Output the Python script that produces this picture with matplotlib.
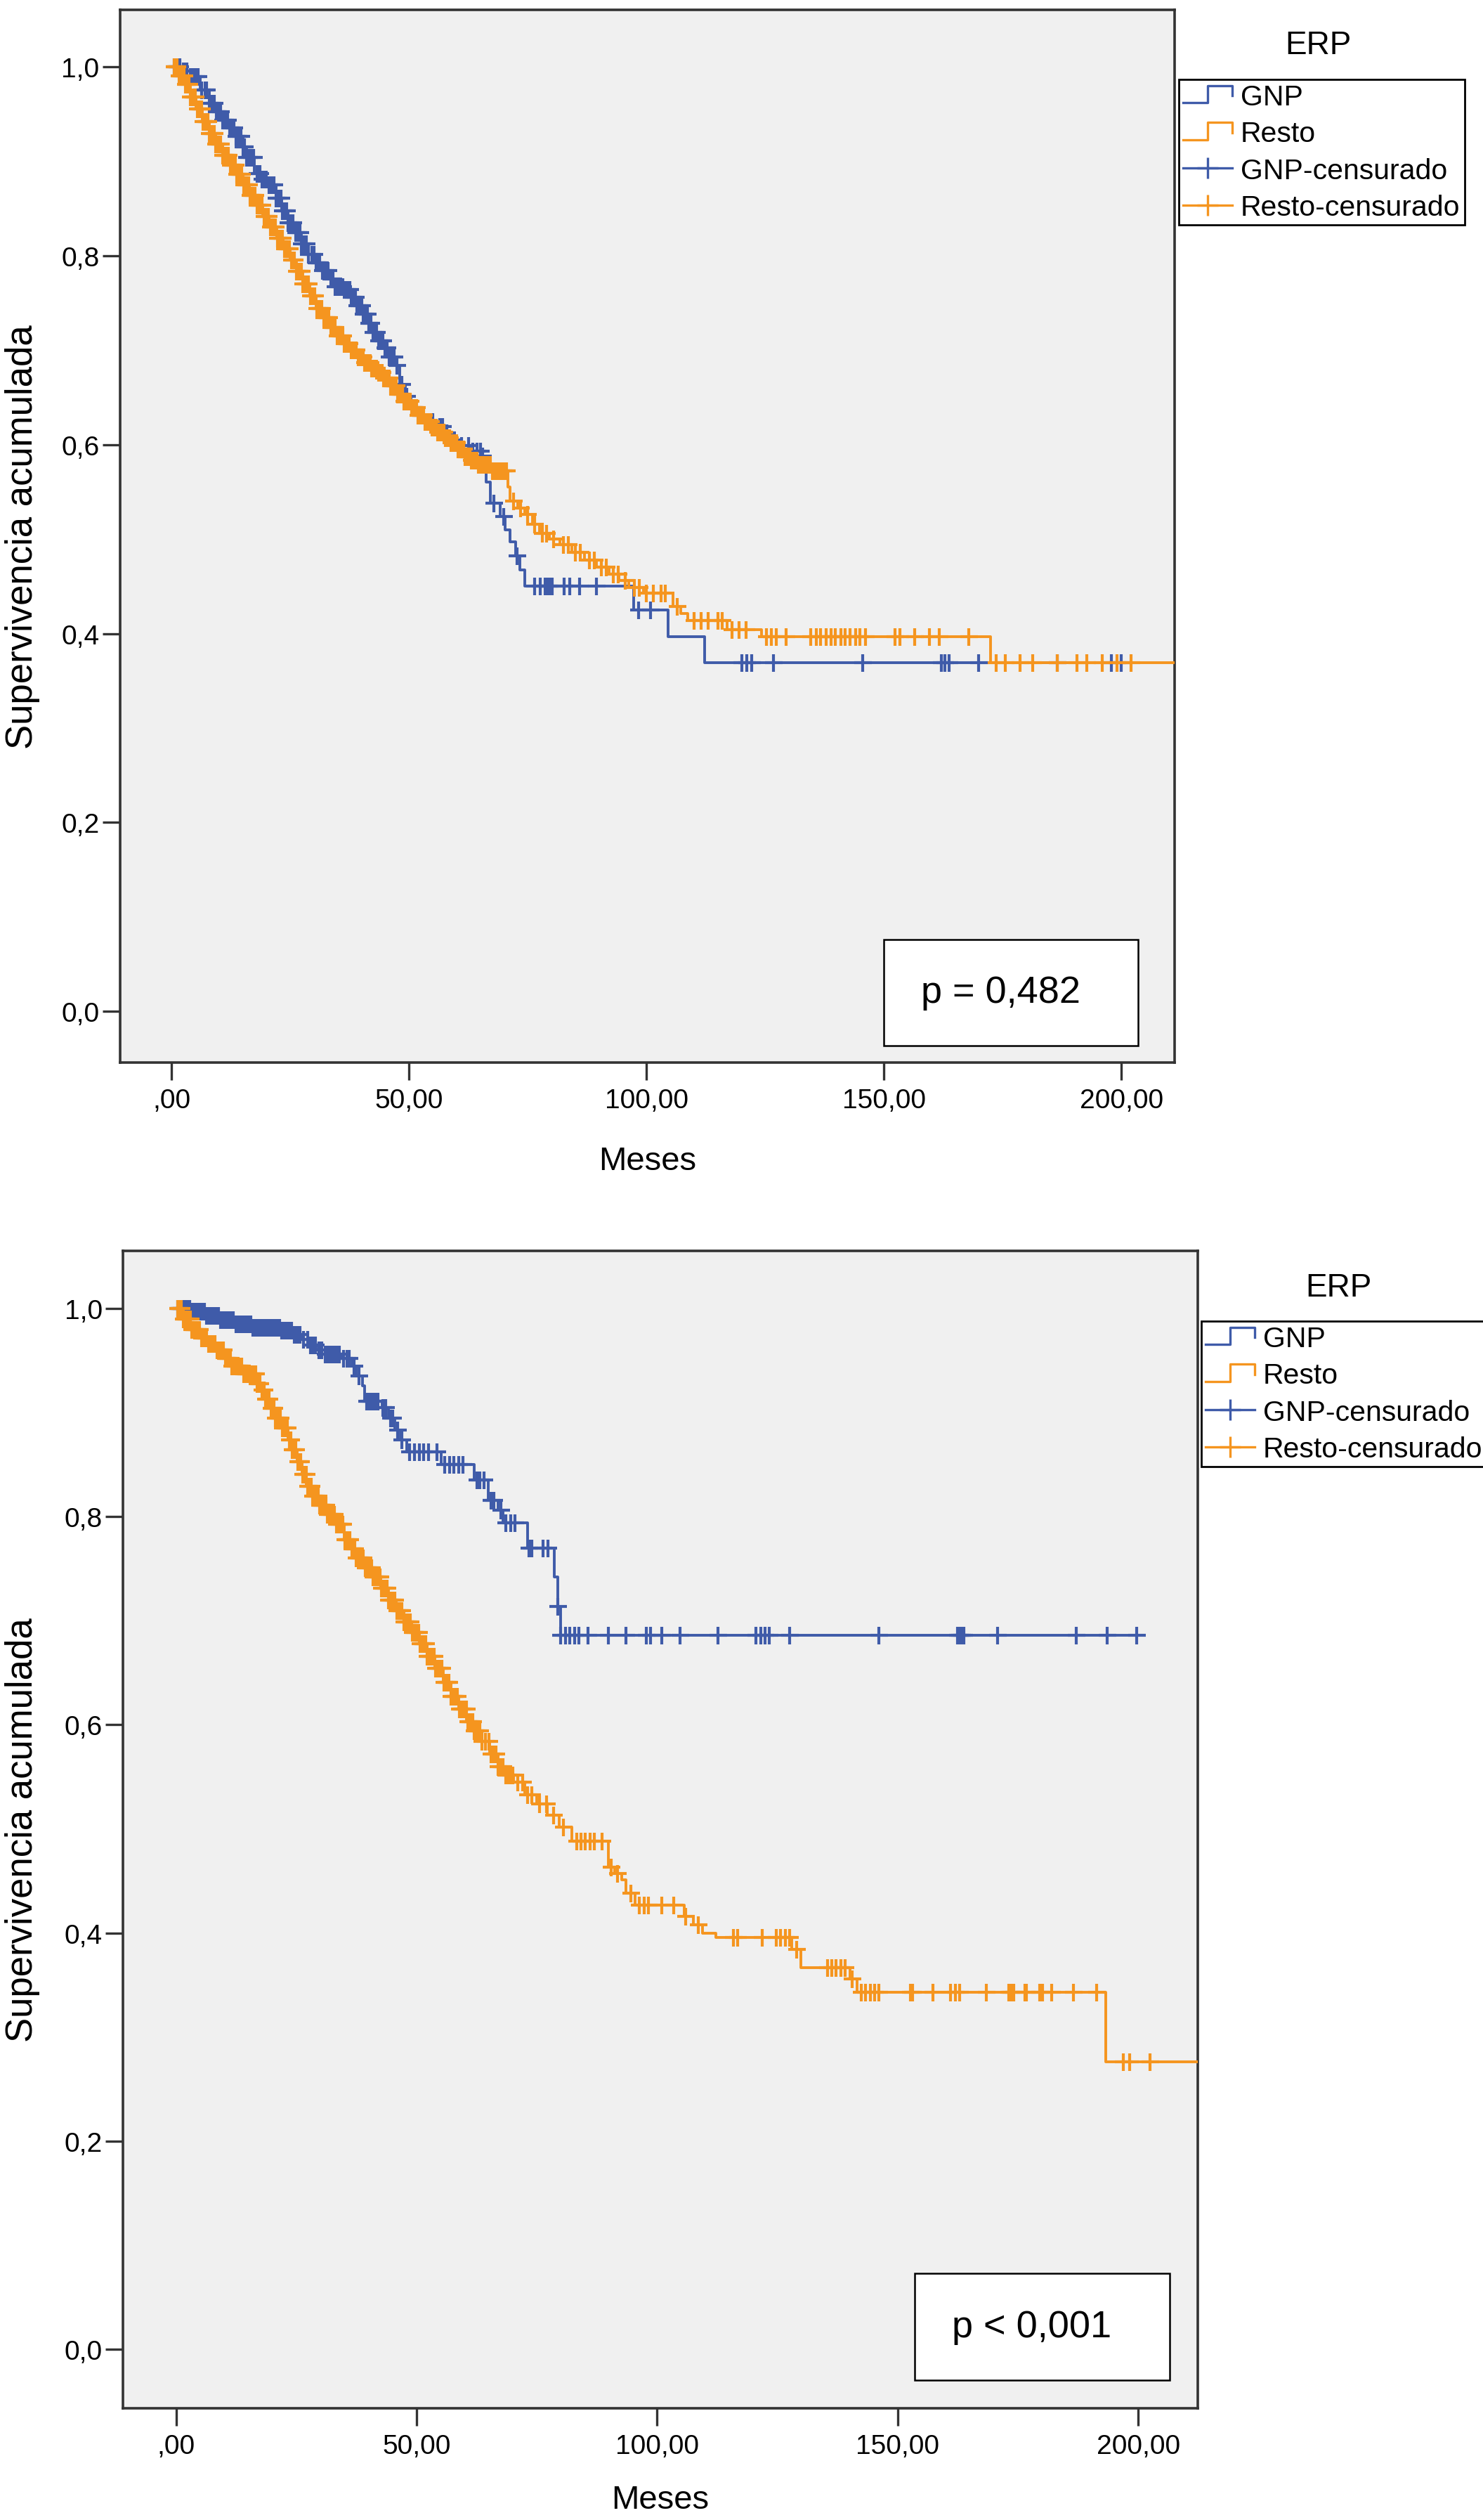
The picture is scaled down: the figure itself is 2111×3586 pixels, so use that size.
import numpy as np
import matplotlib
matplotlib.use("Agg")
import matplotlib.pyplot as plt
from matplotlib.lines import Line2D
from matplotlib.patches import Rectangle
from matplotlib.legend_handler import HandlerBase

plt.rcParams['font.family'] = ['Liberation Sans', 'DejaVu Sans']

# ---------------- data ----------------
group_names = ['GNP', 'Resto']
censor_names = ['GNP-censurado', 'Resto-censurado']
legend_title = 'ERP'
p_texts = ['p = 0,482', 'p < 0,001']

x_ticks = [0, 50, 100, 150, 200]
x_ticklabels = [',00', '50,00', '100,00', '150,00', '200,00']
y_ticks = [0.0, 0.2, 0.4, 0.6, 0.8, 1.0]
y_ticklabels = ['0,0', '0,2', '0,4', '0,6', '0,8', '1,0']

# top panel - GNP
top_gnp_t = [0, 2, 3.9, 6, 7.9, 9.3, 10.7, 12, 13.6, 15,
             15.8, 17.5, 19, 20.4, 22, 23.2, 24.6, 26, 27.4, 28.8,
             30.2, 31.7, 33, 34.5, 36.2, 37.9, 39, 40.2, 41.3, 42.4,
             43.5, 44.7, 45.8, 46.9, 48.1, 49.2, 50.4, 51.8, 53.2, 56,
             57.5, 58.9, 60.8, 62.8, 65.1, 66.2, 67.2, 69.2, 70.3, 71.3,
             72.4, 73.4, 74.4, 97.3, 104.5, 112.3]
top_gnp_s = [1.0, 0.995, 0.989, 0.975, 0.961, 0.952, 0.943, 0.935, 0.926, 0.915,
             0.904, 0.887, 0.881, 0.875, 0.861, 0.847, 0.835, 0.824, 0.812, 0.801,
             0.792, 0.784, 0.775, 0.767, 0.764, 0.756, 0.747, 0.738, 0.728, 0.719,
             0.71, 0.702, 0.693, 0.684, 0.664, 0.651, 0.639, 0.631, 0.624, 0.619,
             0.612, 0.605, 0.599, 0.593, 0.588, 0.56, 0.538, 0.524, 0.51, 0.497,
             0.482, 0.467, 0.45, 0.425, 0.397, 0.369]
top_gnp_end = 200
top_gnp_cens = [0.6, 1.2, 1.7, 2.5, 3, 3.3, 3.9, 4.5, 5.2, 5.6, 6.3, 7, 7.4, 8,
                8.5, 9, 9.4, 9.8, 10.3, 10.8, 11.2, 11.8, 12.2, 12.5, 13.2, 13.6,
                14, 14.6, 15, 15.3, 15.8, 16.2, 16.8, 17.3, 18, 18.6, 19, 19.5, 20,
                20.5, 21, 21.5, 22, 22.5, 23, 23.4, 23.8, 24.2, 24.6, 25, 25.6,
                26.1, 26.6, 27, 27.4, 27.8, 28.3, 28.8, 29.5, 30, 30.4, 30.8, 31.2,
                31.8, 32.3, 32.9, 33.5, 34, 34.5, 35, 35.5, 36, 36.5, 37, 37.5,
                37.9, 38.3, 38.7, 39, 39.4, 40, 40.4, 40.8, 41.2, 41.5, 42, 42.4,
                42.8, 43.2, 43.6, 44, 44.5, 45, 45.4, 45.9, 46.3, 46.8, 47.5,
                48.5, 49.5, 51, 52.5, 53.5, 55, 56.5, 57, 58, 59.5, 61, 62.5,
                63.5, 64.3, 65, 65.5, 67.8, 70, 72.8,
                76.5, 77.6, 78.6, 79.1, 79.6, 80.2, 82.7, 83.8, 85.9, 89.5, 98.3,
                100.9, 120.1, 121.1, 122.2, 126.8, 145.5, 162.1, 162.9, 163.7,
                169.9, 186.5, 197.9, 200]

# top panel - Resto
top_rest_t = [0, 1.4, 2.8, 4, 5.1, 6.5, 7.9, 9.3, 10.7, 12.1,
              13.6, 15, 16.4, 17.8, 19.2, 20.6, 22.1, 23.5, 24.9, 26.3,
              27.7, 29.1, 30.5, 32, 33.4, 34.8, 36.2, 37.6, 39, 40.5,
              41.9, 43.3, 44.7, 46.1, 47.5, 49, 50.4, 51.8, 53.2, 54.6,
              56, 57.5, 58.9, 60.3, 61.7, 63, 64.5, 67.3, 70.8, 71.3,
              72.9, 74.4, 76, 77.5, 79.6, 81.7, 84.3, 86.9, 89.5, 92.1,
              94.2, 96.3, 99.4, 105.6, 107.2, 108.7, 117, 124.2, 172.5]
top_rest_s = [1.0, 0.99, 0.981, 0.968, 0.955, 0.942, 0.929, 0.918, 0.906, 0.896,
              0.886, 0.875, 0.864, 0.853, 0.841, 0.83, 0.818, 0.807, 0.795, 0.783,
              0.77, 0.757, 0.744, 0.734, 0.724, 0.715, 0.707, 0.7, 0.693, 0.687,
              0.681, 0.676, 0.67, 0.662, 0.653, 0.646, 0.639, 0.631, 0.624, 0.618,
              0.613, 0.607, 0.602, 0.595, 0.587, 0.583, 0.579, 0.572, 0.555, 0.54,
              0.533, 0.526, 0.516, 0.506, 0.5, 0.494, 0.486, 0.478, 0.47, 0.463,
              0.456, 0.449, 0.443, 0.429, 0.421, 0.414, 0.404, 0.397, 0.369]
top_rest_end = 215
top_rest_cens = [0.5, 0.8, 1.2, 1.6, 1.9, 2.2, 2.6, 3, 3.3, 3.6, 4, 4.4, 4.7, 5,
                 5.4, 5.7, 6, 6.3, 6.7, 7, 7.3, 7.6, 8, 8.3, 8.7, 9, 9.3, 9.6, 10,
                 10.3, 10.7, 11, 11.3, 11.6, 12, 12.4, 12.7, 13, 13.4, 13.8, 14.1,
                 14.4, 14.8, 15.2, 15.5, 15.8, 16.2, 16.6, 16.9, 17.2, 17.6, 18,
                 18.3, 18.6, 19, 19.5, 19.8, 20, 20.4, 20.9, 21.2, 21.5, 21.9, 22.3,
                 22.6, 23, 23.4, 23.8, 24.1, 24.4, 24.8, 25.3, 25.6, 25.9, 26.3,
                 26.7, 27, 27.3, 27.7, 28.2, 28.5, 28.8, 29.2, 29.6, 29.9, 30.2,
                 30.6, 31, 31.3, 31.6, 32, 32.5, 32.8, 33.1, 33.5, 33.9, 34.2, 34.5,
                 34.9, 35.4, 35.7, 36, 36.4, 36.8, 37.1, 37.4, 37.8, 38.3, 38.6,
                 38.9, 39.3, 39.7, 40, 40.3, 40.7, 41.2, 41.5, 41.8, 42.2, 42.6,
                 42.9, 43.2, 43.6, 44.1, 44.4, 44.7, 45.1, 45.5, 45.8, 46.1, 46.5,
                 47, 47.3, 47.6, 48, 48.4, 48.7, 49, 49.4, 49.9, 50.2, 50.5, 50.9,
                 51.3, 51.6, 51.9, 52.3, 52.8, 53.1, 53.4, 53.8, 54.2, 54.5, 54.8,
                 55.2, 55.7, 56, 56.3, 56.7, 57.1, 57.4, 57.7, 58.1, 58.6, 58.9,
                 59.2, 59.6, 60, 60.3, 60.6, 61, 61.5, 61.8, 62.1, 62.5, 62.9, 63.2,
                 63.5, 63.9, 64.3, 64.6, 64.9, 65.2, 65.5, 65.9, 66.2, 66.5, 66.8,
                 67.2, 67.5, 67.8, 68.1, 68.5, 68.8, 69.1, 69.4, 69.8, 70.1, 70.5,
                 72, 73.5, 75, 76.5, 78, 79, 80.5, 82.5, 83.5, 85, 86, 88, 89,
                 90.5, 91.5, 93, 94, 95.5, 97.5, 98.5, 100, 101.5, 103, 104, 106.5,
                 110, 111.5, 113, 115, 116, 118, 119.5, 121, 125.3, 126.3, 127.4,
                 129.4, 134.6, 135.7, 136.7, 137.8, 138.8, 139.8, 140.9, 141.9,
                 142.9, 144, 145, 146.1, 152.3, 153.3, 156.4, 159.6, 161.6, 167.9,
                 173.6, 175.6, 178.7, 181.3, 186.5, 190.6, 192.7, 195.9, 199, 202.1]

# bottom panel - GNP
bot_gnp_t = [0, 3, 6, 9, 12, 16, 22, 24.5, 26, 27.8,
             29.5, 31, 34.3, 36.5, 37.5, 38.8, 39.2, 42.8, 44.1, 45.4,
             46.7, 48, 55.1, 62, 64.9, 66.9, 67.9, 73.1, 78.6, 79.3,
             79.9]
bot_gnp_s = [1.0, 0.997, 0.993, 0.989, 0.985, 0.982, 0.979, 0.975, 0.97, 0.965,
             0.96, 0.956, 0.952, 0.945, 0.935, 0.926, 0.911, 0.905, 0.895, 0.883,
             0.874, 0.862, 0.85, 0.835, 0.816, 0.806, 0.794, 0.77, 0.742, 0.714,
             0.686]
bot_gnp_end = 200.5
bot_gnp_cens = [0.4, 0.8, 1.1, 1.6, 2, 2.3, 2.8, 3.2, 3.5, 4, 4.4, 4.7, 5.2, 5.6,
                5.9, 6.4, 6.8, 7.1, 7.6, 8, 8.3, 8.8, 9.2, 9.5, 10, 10.4, 10.7,
                11.2, 11.6, 11.9, 12.4, 12.8, 13.1, 13.6, 14, 14.3, 14.8, 15.2,
                15.5, 16, 16.4, 16.7, 17.2, 17.6, 17.9, 18.4, 18.8, 19.1, 19.6, 20,
                20.5, 21, 21.5, 22, 22.5, 23, 23.5, 24, 24.6, 25.2, 25.8, 26.5,
                27.3, 28, 28.5, 29, 29.7, 30.3, 31, 31.5, 32, 32.5, 33, 33.5, 34,
                34.8, 35.5, 36, 37, 38, 39.6, 40, 40.5, 41, 41.5, 42, 43, 43.5,
                44.6, 45, 46, 47, 48.6, 49.6, 50.6, 51.5, 52.5, 54.2, 55.8, 56.8,
                57.7, 58.7, 59.7, 62.5, 63.2, 64, 65.5, 66, 67.5, 68.5, 69.5, 70.5,
                73.4, 74, 76.3, 77.3, 79.3, 80, 80.95, 81.9, 82.8, 83.75, 85.6,
                89.8, 93.5, 97.7, 98.6, 101, 104.7, 112.6, 120.5, 121.5, 122.4,
                123.3, 127.5, 146.1, 162.4, 162.9, 163.3, 163.8, 170.8, 187.1,
                193.6, 199.7]

# bottom panel - Resto
bot_rest_t = [0, 1.5, 3, 5, 6.5, 8.2, 10, 11.5, 14.1, 16.7,
              17.6, 18.6, 19.6, 20.6, 21.9, 23.2, 24.2, 25.2, 26.2, 27.1,
              28.4, 29.7, 31.4, 33, 34.9, 36.2, 37.5, 39.2, 40.8, 42.5,
              44.1, 45.7, 47.3, 49, 50.6, 52.2, 53.8, 55.5, 57.1, 58.7,
              60.4, 62, 63.6, 65.2, 66.9, 68.5, 70.1, 72.5, 74.9, 77.2,
              79.6, 82.3, 89.8, 91.2, 92.6, 93.5, 95.4, 105.6, 107.5, 109.4,
              112.2, 128, 129.9, 140.1, 141.5, 193.2]
bot_rest_s = [1.0, 0.99, 0.98, 0.972, 0.966, 0.96, 0.952, 0.945, 0.937, 0.928,
              0.922, 0.913, 0.904, 0.895, 0.885, 0.874, 0.864, 0.853, 0.841, 0.829,
              0.82, 0.811, 0.802, 0.793, 0.778, 0.769, 0.76, 0.751, 0.742, 0.731,
              0.72, 0.71, 0.699, 0.689, 0.678, 0.666, 0.654, 0.641, 0.627, 0.615,
              0.603, 0.594, 0.584, 0.572, 0.56, 0.552, 0.545, 0.533, 0.524, 0.513,
              0.502, 0.488, 0.463, 0.457, 0.451, 0.438, 0.427, 0.416, 0.408, 0.4,
              0.396, 0.384, 0.367, 0.356, 0.343, 0.276]
bot_rest_end = 215
bot_rest_cens = [0.4, 0.7, 1.1, 1.5, 1.8, 2.1, 2.5, 2.9, 3.2, 3.5, 3.9, 4.3, 4.6,
                 4.9, 5.3, 5.7, 6, 6.3, 6.7, 7.1, 7.4, 7.7, 8.1, 8.5, 8.8, 9.1,
                 9.5, 9.9, 10.2, 10.5, 10.9, 11.3, 11.6, 11.9, 12.3, 12.7, 13,
                 13.3, 13.7, 14.1, 14.4, 14.7, 15.1, 15.5, 15.8, 16.1, 16.5, 16.9,
                 17.2, 17.5, 17.9, 18.3, 18.6, 18.9, 19.3, 19.7, 20, 20.3, 20.7,
                 21.1, 21.4, 21.7, 22.1, 22.5, 22.8, 23.1, 23.5, 23.9, 24.2, 24.5,
                 24.9, 25.3, 25.6, 25.9, 26.3, 26.7, 27, 27.3, 27.7, 28.1, 28.4,
                 28.7, 29.1, 29.5, 29.8, 30.1, 30.5, 30.9, 31.2, 31.5, 31.9, 32.3,
                 32.6, 32.9, 33.3, 33.7, 34, 34.3, 34.7, 35.1, 35.4, 35.7, 36.1,
                 36.5, 36.8, 37.1, 37.5, 37.9, 38.2, 38.5, 38.9, 39.3, 39.6, 39.9,
                 40.3, 40.7, 41, 41.3, 41.7, 42.1, 42.4, 42.7, 43.1, 43.5, 43.8,
                 44.1, 44.5, 44.9, 45.2, 45.5, 45.9, 46.3, 46.6, 46.9, 47.3, 47.7,
                 48, 48.3, 48.7, 49.1, 49.4, 49.7, 50.1, 50.5, 50.8, 51.1, 51.5,
                 51.9, 52.2, 52.5, 52.9, 53.3, 53.6, 53.9, 54.3, 54.7, 55, 55.3,
                 55.7, 56.1, 56.4, 56.7, 57.1, 57.5, 57.8, 58.1, 58.5, 58.9, 59.2,
                 59.5, 59.9, 60.3, 60.6, 60.9, 61.3, 61.7, 62, 62.3, 62.7, 63.1,
                 63.6, 64.3, 65, 65.5, 66, 66.5, 67, 67.5, 68, 68.5, 69, 69.5, 70,
                 71, 72, 73, 74, 75.5, 77, 78.5, 80.5, 83.3, 84.2, 85.1, 86.1, 87,
                 88.5, 90.5, 91.8, 94.5, 96.3, 97.3, 98.2, 101, 103.5, 106, 108.5,
                 115.9, 116.8, 121.9, 124.7, 125.6, 126.6, 127.5, 129, 135.4, 136.3,
                 137.2, 138.2, 139.1, 140.5, 142.4, 143.3, 144.3, 145.2, 146.1,
                 152.6, 153.1, 157.3, 161, 162, 162.9, 168.5, 173.1, 173.6, 174.1,
                 176.4, 176.8, 179.6, 180.1, 182, 186.6, 191.3, 196.9, 198.3, 202.5]

BLUE = '#3F5BA9'
ORANGE = '#F5951F'
FRAME = '#333333'


def surv_at(t, s, tc):
    t = np.asarray(t)
    s = np.asarray(s)
    idx = np.searchsorted(t, np.asarray(tc), side='right') - 1
    return s[idx]


def draw_km(ax, t, s, t_end, cens, color):
    tt = np.append(t, t_end)
    ss = np.append(s, s[-1])
    ax.step(tt, ss, where='post', color=color, lw=2.8, zorder=3)
    ax.plot(cens, surv_at(t, s, cens), ls='none', marker='+', ms=18,
            mew=3.0, color=color, zorder=3)


class StepHandler(HandlerBase):
    def create_artists(self, legend, orig_handle, xdescent, ydescent,
                       width, height, fontsize, trans):
        x0, y0 = -xdescent, -ydescent
        xs = [x0, x0 + 0.5 * width, x0 + 0.5 * width, x0 + width, x0 + width]
        ys = [y0 + 0.1 * height, y0 + 0.1 * height, y0 + 0.95 * height,
              y0 + 0.95 * height, y0 + 0.45 * height]
        ln = Line2D(xs, ys, color=orig_handle.get_color(), lw=2.4,
                    transform=trans)
        return [ln]


fig = plt.figure(figsize=(21.11, 35.87), dpi=100)
W, H = 2111.0, 3587.0

panels = [
    dict(rect=[170.5 / W, 1 - 1513 / H, (1672 - 170.5) / W, 1498 / H],
         xlim=(-10.9, 211.2), ylim=(-0.054, 1.060),
         gnp=(top_gnp_t, top_gnp_s, top_gnp_end, top_gnp_cens),
         rest=(top_rest_t, top_rest_s, top_rest_end, top_rest_cens),
         pbox=(150, -0.036, 53.5, 0.112), ptext=p_texts[0],
         title_xy=(1876 / W, 1 - 65 / H), leg_xy=(1678 / W, 1 - 114 / H),
         ylab_x=-0.092, xlab_y=-0.0935),
    dict(rect=[175 / W, 1 - 3428 / H, (1705 - 175) / W, 1647 / H],
         xlim=(-11.05, 212.4), ylim=(-0.0567, 1.0554),
         gnp=(bot_gnp_t, bot_gnp_s, bot_gnp_end, bot_gnp_cens),
         rest=(bot_rest_t, bot_rest_s, bot_rest_end, bot_rest_cens),
         pbox=(153.6, -0.030, 52.9, 0.103), ptext=p_texts[1],
         title_xy=(1905 / W, 1 - 1833 / H), leg_xy=(1710 / W, 1 - 1881 / H),
         ylab_x=-0.0935, xlab_y=-0.079),
]

for p in panels:
    ax = fig.add_axes(p['rect'])
    ax.set_facecolor('#F0F0F0')
    draw_km(ax, *p['gnp'][:2], p['gnp'][2], p['gnp'][3], BLUE)
    draw_km(ax, *p['rest'][:2], p['rest'][2], p['rest'][3], ORANGE)
    ax.set_xlim(*p['xlim'])
    ax.set_ylim(*p['ylim'])
    ax.set_xticks(x_ticks)
    ax.set_xticklabels(x_ticklabels)
    ax.set_yticks(y_ticks)
    ax.set_yticklabels(y_ticklabels)
    ax.tick_params(axis='both', length=18, width=2.4, color=FRAME,
                   labelsize=28, direction='out')
    ax.tick_params(axis='x', pad=8)
    ax.tick_params(axis='y', pad=3)
    for sp in ax.spines.values():
        sp.set_color(FRAME)
        sp.set_linewidth(2.6)

    ax.set_xlabel('Meses', fontsize=34, va='center')
    ax.xaxis.set_label_coords(0.5, p['xlab_y'])
    ax.set_ylabel('Supervivencia acumulada', fontsize=38, va='center')
    ax.yaxis.set_label_coords(p['ylab_x'], 0.5)

    bx, by, bw, bh = p['pbox']
    ax.add_patch(Rectangle((bx, by), bw, bh, facecolor='white',
                           edgecolor='black', lw=1.8, zorder=5))
    ax.text(bx + bw * 0.46, by + bh * 0.5, p['ptext'], fontsize=39,
            ha='center', va='center', zorder=6)

    fig.text(*p['title_xy'], legend_title, fontsize=33, ha='center',
             va='center')
    h_gnp = Line2D([], [], color=BLUE, lw=2.4)
    h_rest = Line2D([], [], color=ORANGE, lw=2.4)
    h_gnp_c = Line2D([], [], color=BLUE, lw=2.4, marker='+', ms=22, mew=2.4)
    h_rest_c = Line2D([], [], color=ORANGE, lw=2.4, marker='+', ms=22, mew=2.4)
    leg = fig.legend([h_gnp, h_rest, h_gnp_c, h_rest_c],
                     group_names + censor_names,
                     loc='upper left', bbox_to_anchor=p['leg_xy'],
                     bbox_transform=fig.transFigure, borderaxespad=0,
                     fontsize=29.5, frameon=True, fancybox=False,
                     handlelength=1.7, handletextpad=0.3, borderpad=0.15,
                     labelspacing=0.35, numpoints=1,
                     handler_map={h_gnp: StepHandler(), h_rest: StepHandler()})
    fr = leg.get_frame()
    fr.set_edgecolor('black')
    fr.set_linewidth(2.0)
    fr.set_facecolor('white')
    fr.set_alpha(1)

fig.savefig('out.png', dpi=100)
